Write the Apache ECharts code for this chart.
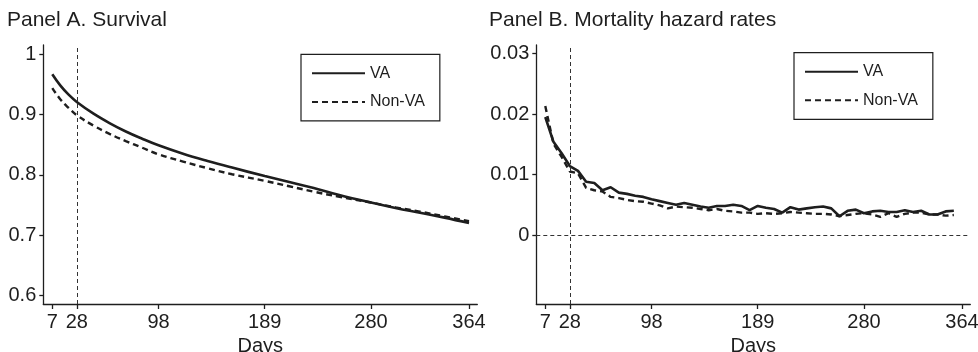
<!DOCTYPE html>
<html>
<head>
<meta charset="utf-8">
<script src="https://cdn.jsdelivr.net/npm/echarts@6/dist/echarts.min.js"></script>
<style>
html,body{margin:0;padding:0;background:#fff;}
#c{width:978px;height:352px;}
</style>
</head>
<body>
<div id="c"></div>
<script>
// ---- data ----
const survDays = [7, 14, 21, 28, 42, 56, 70, 84, 98, 119, 140, 161, 189, 210, 231, 252, 280, 301, 322, 343, 364];
const survVA    = [0.967, 0.948, 0.933, 0.921, 0.902, 0.886, 0.872, 0.860, 0.849, 0.835, 0.823, 0.812, 0.798, 0.788, 0.778, 0.767, 0.754, 0.745, 0.737, 0.729, 0.720];
const survNonVA = [0.944, 0.925, 0.911, 0.899, 0.882, 0.868, 0.856, 0.845, 0.834, 0.822, 0.811, 0.801, 0.790, 0.781, 0.772, 0.764, 0.754, 0.746, 0.739, 0.731, 0.723];

const hazDays = [7, 14, 21, 28, 35, 42, 49, 56, 63, 70, 77, 84, 91, 98, 105, 112, 119, 126, 133, 140,
  147, 154, 161, 168, 175, 182, 189, 196, 203, 210, 217, 224, 231, 238, 245, 252, 259, 266, 273, 280,
  287, 294, 301, 308, 315, 322, 329, 336, 343, 350, 357];
const hazVA = [0.0195, 0.0154, 0.0135, 0.0114, 0.0106, 0.0088, 0.0086, 0.0074, 0.0079, 0.0070,
  0.0068, 0.0065, 0.0063, 0.0059, 0.0056, 0.0053, 0.0050, 0.0053, 0.0050, 0.0047,
  0.0045, 0.0048, 0.0048, 0.0050, 0.0048, 0.0041, 0.0048, 0.0045, 0.0043, 0.0037,
  0.0046, 0.0042, 0.0044, 0.0046, 0.0047, 0.0044, 0.0031, 0.0040, 0.0042, 0.0036,
  0.0039, 0.0040, 0.0038, 0.0038, 0.0041, 0.0038, 0.0040, 0.0034, 0.0034, 0.0039, 0.0040];
const hazNonVA = [0.0213, 0.0151, 0.0129, 0.0105, 0.0102, 0.0078, 0.0074, 0.0072, 0.0063, 0.0061,
  0.0058, 0.0056, 0.0055, 0.0052, 0.0049, 0.0044, 0.0047, 0.0046, 0.0045, 0.0043,
  0.0041, 0.0043, 0.0040, 0.0039, 0.0037, 0.0037, 0.0035, 0.0036, 0.0035, 0.0036,
  0.0038, 0.0037, 0.0036, 0.0035, 0.0035, 0.0034, 0.0031, 0.0033, 0.0035, 0.0036,
  0.0034, 0.0030, 0.0036, 0.0030, 0.0035, 0.0037, 0.0037, 0.0034, 0.0034, 0.0032, 0.0033];

const xTicks = [7, 28, 98, 189, 280, 364];
const yTicksA = [0.6, 0.7, 0.8, 0.9, 1];
const yTicksB = [0, 0.01, 0.02, 0.03];
const refDay = 28;
const titles = ['Panel A. Survival', 'Panel B. Mortality hazard rates'];
const seriesNames = ['VA', 'Non-VA'];
const xName = 'Days';

// ---- chart ----
const FONT = '"Liberation Sans", Arial, Helvetica, sans-serif';
const INK = '#1e1e1e';
const chart = echarts.init(document.getElementById('c'), null, {renderer: 'canvas'});

function pairs(xs, ys) { return xs.map((x, i) => [x, ys[i]]); }

function xAxisFor(gi) {
  return {
    type: 'value', gridIndex: gi, min: -0.7, max: 371.1,
    name: xName, nameLocation: 'middle', nameGap: 27,
    nameTextStyle: {fontFamily: FONT, fontSize: 20, color: INK, verticalAlign: 'top'},
    axisLine: {show: true, onZero: false, lineStyle: {color: INK, width: 1.3}},
    axisTick: {show: true, length: 5, customValues: xTicks, lineStyle: {color: INK, width: 1.3}},
    axisLabel: {customValues: xTicks, margin: 8, fontFamily: FONT, fontSize: 20, color: INK},
    splitLine: {show: false}
  };
}
function yAxisFor(gi, min, max, ticks) {
  return {
    type: 'value', gridIndex: gi, min: min, max: max,
    axisLine: {show: true, onZero: false, lineStyle: {color: INK, width: 1.3}},
    axisTick: {show: true, length: 4, customValues: ticks, lineStyle: {color: INK, width: 1.3}},
    axisLabel: {customValues: ticks, margin: 7, fontFamily: FONT, fontSize: 20, color: INK,
      formatter: v => String(v)},
    splitLine: {show: false}
  };
}
const solid = {color: INK, width: 2.6, type: 'solid'};
const dashed = {color: INK, width: 2.4, type: [6, 4]};
const refLine = {color: '#333', width: 1, type: [4, 3]};

function legendFor(left, top) {
  return {
    data: seriesNames, orient: 'vertical', left: left, top: top,
    itemWidth: 53, itemHeight: 14, itemGap: 12.6,
    padding: [11, 15, 11, 10],
    borderColor: INK, borderWidth: 1.2, borderRadius: 0,
    backgroundColor: '#fff',
    selectedMode: false,
    itemStyle: {opacity: 0, borderWidth: 0},
    textStyle: {fontFamily: FONT, fontSize: 16, color: INK}
  };
}

const option = {
  animation: false,
  backgroundColor: '#fff',
  title: [
    {text: titles[0], left: 2, top: 5, textStyle: {fontFamily: FONT, fontSize: 21, fontWeight: 'normal', color: INK}},
    {text: titles[1], left: 484, top: 5, textStyle: {fontFamily: FONT, fontSize: 21, fontWeight: 'normal', color: INK}}
  ],
  legend: [legendFor(301, 54.3), legendFor(794, 52.7)],
  grid: [
    {left: 43.3, right: 500.7, top: 45, bottom: 48, containLabel: false, outerBoundsMode: 'none'},
    {left: 536.3, right: 7.7, top: 45, bottom: 48, containLabel: false, outerBoundsMode: 'none'}
  ],
  xAxis: [xAxisFor(0), xAxisFor(1)],
  yAxis: [
    yAxisFor(0, 0.5856, 1.0155, yTicksA),
    yAxisFor(1, -0.0114, 0.0314, yTicksB)
  ],
  series: [
    {name: seriesNames[1], type: 'line', xAxisIndex: 0, yAxisIndex: 0, data: pairs(survDays, survNonVA),
     smooth: 0.4, symbol: 'none', lineStyle: dashed, itemStyle: {color: INK}, z: 3,
     markLine: {silent: true, symbol: 'none', label: {show: false}, lineStyle: refLine, data: [{xAxis: refDay}]}},
    {name: seriesNames[0], type: 'line', xAxisIndex: 0, yAxisIndex: 0, data: pairs(survDays, survVA),
     smooth: 0.4, symbol: 'none', lineStyle: solid, itemStyle: {color: INK}, z: 4},
    {name: seriesNames[1], type: 'line', xAxisIndex: 1, yAxisIndex: 1, data: pairs(hazDays, hazNonVA),
     symbol: 'none', lineStyle: dashed, itemStyle: {color: INK}, z: 3,
     markLine: {silent: true, symbol: 'none', label: {show: false}, lineStyle: refLine,
       data: [{xAxis: refDay}, {yAxis: 0}]}},
    {name: seriesNames[0], type: 'line', xAxisIndex: 1, yAxisIndex: 1, data: pairs(hazDays, hazVA),
     symbol: 'none', lineStyle: solid, itemStyle: {color: INK}, z: 4}
  ]
};
chart.setOption(option);
</script>
</body>
</html>
